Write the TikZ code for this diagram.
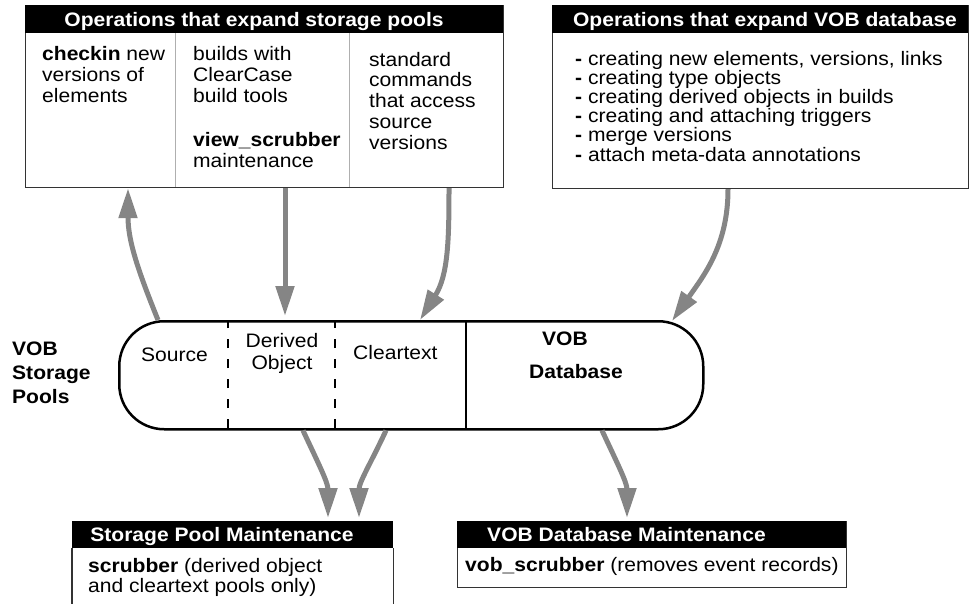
\documentclass[tikz,border=0pt]{standalone}
\usepackage{fontspec}
\setmainfont{Liberation Sans}[FakeStretch=1.08]
\usetikzlibrary{arrows.meta,positioning}

\definecolor{flowgray}{RGB}{133,133,133}
\definecolor{rulegray}{RGB}{175,175,175}
\newcommand\dgmfont{\fontsize{19.5}{21}\selectfont}

\tikzset{
  panel/.style={draw=black!80, line width=1.2pt, inner sep=0pt, anchor=north west},
  hdr/.style={fill=black, inner sep=0pt, minimum height=28pt, anchor=north west},
  hdrtxt/.style={text=white, font=\bfseries\dgmfont, inner sep=0pt, anchor=base},
  txt/.style={font=\dgmfont, inner sep=0pt, align=left, anchor=base west},
  colrule/.style={draw=rulegray, line width=1pt},
  pool/.style={draw, line width=2.5pt, rounded corners=45pt, inner sep=0pt,
    minimum width=584pt, minimum height=108pt, anchor=north west},
  pooldiv/.style={line width=2.5pt, dash pattern=on 9pt off 11pt},
  flow/.style={draw=flowgray, line width=5pt, -{Triangle[length=30pt,width=18pt]}},
}

\begin{document}
\begin{tikzpicture}[x=1pt, y=-1pt]
  \useasboundingbox (0,0) rectangle (969,603);

  % storage pool operations (multi-line texts sit on their last baseline)
  \node[panel, minimum width=478pt, minimum height=182pt] (poolbox) at (25,5) {};
  \node[hdr, minimum width=478pt] (poolhdr) at (25,5) {};
  \node[hdrtxt] (pooltitle) at (254,26.5) {Operations that expand storage pools};
  \draw[colrule] (175,33) -- (175,187);
  \draw[colrule] (349,33) -- (349,187);
  \node[txt] (checkin) at (42,102) {\textbf{checkin} new\\versions of\\elements};
  \node[txt] (builds) at (193,102) {builds with\\ClearCase\\build tools};
  \node[txt] (viewscrub) at (193,167) {\textbf{view\_scrubber}\\maintenance};
  \node[txt, font=\fontsize{19.5}{20.7}\selectfont] (stdcmds) at (369,149) {standard\\commands\\that access\\source\\versions};

  % vob database operations
  \node[panel, minimum width=416pt, minimum height=183pt] (vobbox) at (552,5) {};
  \node[hdr, minimum width=416pt] (vobhdr) at (552,5) {};
  \node[hdrtxt] (vobtitle) at (765,26.5) {Operations that expand VOB database};
  \node[txt, font=\fontsize{19.5}{18}\selectfont] (vobops) at (575,161)
    {\textbf{-} creating new elements, versions, links\\
     \textbf{-} creating type objects\\
     \textbf{-} creating derived objects in builds\\
     \textbf{-} creating and attaching triggers\\
     \textbf{-} merge versions\\
     \textbf{-} attach meta-data annotations};

  % the pools
  \node[txt, font=\bfseries\fontsize{19.5}{24}\selectfont] (poollbl) at (12,403) {VOB\\Storage\\Pools};
  \node[pool] (pool) at (118,320) {};
  \draw[pooldiv] (228,428) -- (228,320);
  \draw[pooldiv] (335,428) -- (335,320);
  \draw[line width=2pt] (466,428) -- (466,320);
  \node[txt] (src) at (141,361) {Source};
  \node[txt, align=center, anchor=base, font=\fontsize{19.5}{22}\selectfont] (dobj) at (282,369) {Derived\\Object};
  \node[txt] (ctext) at (353,359) {Cleartext};
  \node[txt, anchor=base, font=\bfseries\dgmfont] (vobword) at (565,345) {VOB};
  \node[txt, anchor=base, font=\bfseries\dgmfont] (dbword) at (576,378) {Database};

  % maintenance
  \node[hdr, minimum width=321pt, minimum height=27pt] (spmhdr) at (72,521) {};
  \node[hdrtxt] (spmtitle) at (222,541) {Storage Pool Maintenance};
  \draw[draw=black!80, line width=1.2pt] (spmhdr.south west) -- ++(0,60);
  \draw[draw=black!80, line width=1.2pt] (spmhdr.south east) -- ++(0,60);
  \node[txt, font=\fontsize{19.5}{20}\selectfont] (scrub) at (88,592) {\textbf{scrubber} (derived object\\and cleartext pools only)};

  \node[panel, minimum width=389pt, minimum height=66pt] (vdmbox) at (457,521) {};
  \node[hdr, minimum width=389pt, minimum height=27pt] (vdmhdr) at (457,521) {};
  \node[hdrtxt, anchor=base west] (vdmtitle) at (487,541) {VOB Database Maintenance};
  \node[txt] (vobscrub) at (465,571) {\textbf{vob\_scrubber} (removes event records)};

  % arrow ends
  \coordinate (srcOut) at ([xshift=40pt]pool.north west);
  \coordinate (ckinIn) at ([xshift=103pt]poolbox.south west);
  \coordinate (bldOut) at ([xshift=260pt]poolbox.south west);
  \coordinate (dobjIn) at ([xshift=167pt,yshift=4pt]pool.north west);
  \coordinate (stdOut) at ([xshift=424pt]poolbox.south west);
  \coordinate (ctextIn) at ([xshift=302pt]pool.north west);
  \coordinate (opsOut) at ([xshift=176pt]vobbox.south west);
  \coordinate (dbIn) at ([xshift=554pt,yshift=-1pt]pool.north west);
  \coordinate (doOut) at ([xshift=185pt]pool.south west);
  \coordinate (spmIn) at ([xshift=256pt,yshift=3pt]spmhdr.north west);
  \coordinate (ctOut) at ([xshift=268pt]pool.south west);
  \coordinate (spmIn2) at ([xshift=287pt,yshift=3pt]spmhdr.north west);
  \coordinate (dbOut) at ([xshift=484pt]pool.south west);
  \coordinate (vdmIn) at ([xshift=170pt,yshift=3pt]vdmhdr.north west);

  \draw[flow] (srcOut) to[out=112, in=-90] (ckinIn);
  \draw[flow] (bldOut) -- (dobjIn);
  \draw[flow] (stdOut) to[out=-90, in=58] (ctextIn);
  \draw[flow] (opsOut) to[out=-90, in=55] (dbIn);
  \draw[flow] (doOut) to[out=-65, in=90] (spmIn);
  \draw[flow] (ctOut) to[out=-115, in=90] (spmIn2);
  \draw[flow] (dbOut) to[out=-65, in=90] (vdmIn);
\end{tikzpicture}
\end{document}
